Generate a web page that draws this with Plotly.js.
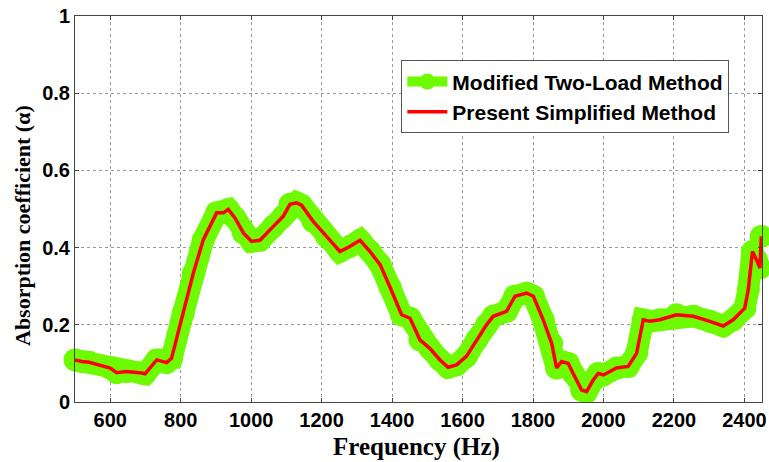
<!DOCTYPE html>
<html>
<head>
<meta charset="utf-8">
<script src="https://cdn.plot.ly/plotly-3.0.1.min.js"></script>
<style>html,body{margin:0;padding:0;background:#fff;}#chart{width:769px;height:462px;}</style>
</head>
<body>
<div id="chart"></div>
<script>
const freq = [500,519,540,600,618,647,689,699,732,760,774,807,836,864,902,921,935,954,978,1001,1025,1063,1091,1110,1129,1143,1176,1214,1252,1280,1309,1337,1366,1394,1427,1451,1479,1507,1536,1559,1583,1611,1640,1668,1687,1725,1749,1782,1801,1829,1853,1867,1881,1900,1914,1938,1952,1971,1985,2000,2037,2070,2094,2113,2132,2160,2207,2255,2302,2340,2368,2401,2411,2423,2434,2444,2448];
const twoLoad = [0.109,0.105,0.103,0.088,0.076,0.079,0.075,0.073,0.109,0.102,0.113,0.23,0.334,0.42,0.49,0.49,0.499,0.477,0.438,0.416,0.419,0.455,0.481,0.512,0.516,0.51,0.468,0.429,0.39,0.403,0.419,0.39,0.356,0.298,0.226,0.217,0.161,0.139,0.109,0.09,0.096,0.118,0.161,0.2,0.222,0.235,0.274,0.282,0.274,0.213,0.152,0.088,0.105,0.10,0.074,0.031,0.027,0.057,0.074,0.07,0.088,0.092,0.126,0.213,0.209,0.213,0.226,0.222,0.209,0.197,0.213,0.243,0.291,0.39,0.369,0.347,0.429];
const simplified = twoLoad.slice();
const xTicks = [600,800,1000,1200,1400,1600,1800,2000,2200,2400];
const yTicks = [0,0.2,0.4,0.6,0.8,1];
const yTickText = ['0','0.2','0.4','0.6','0.8','1'];

const green = 'rgb(110,250,0)';
const traces = [
  {x: freq, y: twoLoad, type: 'scatter', mode: 'lines+markers', name: 'Modified Two-Load Method',
   line: {color: green, width: 22}, marker: {color: green, size: 23, symbol: 'circle', line: {width: 0}},
   cliponaxis: false},
  {x: freq, y: simplified, type: 'scatter', mode: 'lines', name: 'Present Simplified Method',
   line: {color: 'rgb(255,0,0)', width: 3.5}}
];
const tickFont = {family: 'Arial, Liberation Sans, sans-serif', size: 20, color: '#000', weight: 'bold'};
const layout = {
  width: 769, height: 462,
  margin: {l: 75, r: 7, t: 16, b: 60},
  paper_bgcolor: '#fff', plot_bgcolor: '#fff',
  showlegend: true,
  legend: {x: 0.475, y: 0.885, xanchor: 'left', yanchor: 'top', bgcolor: '#fff',
    bordercolor: '#555', borderwidth: 1, itemwidth: 40, tracegroupgap: 0,
    font: {family: 'Arial, Liberation Sans, sans-serif', size: 21, color: '#000', weight: 'bold'}},
  xaxis: {range: [500, 2450], tickvals: xTicks, ticks: 'inside', ticklen: 4,
    showgrid: true, gridcolor: '#999', griddash: 'dot', gridwidth: 1,
    showline: true, linecolor: '#444', linewidth: 1, mirror: 'ticks', zeroline: false,
    tickfont: tickFont},
  yaxis: {range: [0, 1], tickvals: yTicks, ticktext: yTickText, ticks: 'inside', ticklen: 4,
    showgrid: true, gridcolor: '#999', griddash: 'dot', gridwidth: 1,
    showline: true, linecolor: '#444', linewidth: 1, mirror: 'ticks', zeroline: false,
    tickfont: tickFont},
  annotations: [
    {text: 'Frequency (Hz)', xref: 'paper', yref: 'paper', x: (416-75)/687, y: 0,
     xanchor: 'center', yanchor: 'middle', yshift: -45, showarrow: false,
     font: {family: 'Liberation Serif, Times New Roman, serif', size: 25, color: '#000', weight: 'bold'}},
    {text: 'Absorption coefficient (α)', xref: 'paper', yref: 'paper', x: 0, xshift: -52,
     y: (402-226)/386, xanchor: 'center', yanchor: 'middle', textangle: -90, showarrow: false,
     font: {family: 'Liberation Serif, Times New Roman, serif', size: 22, color: '#000', weight: 'bold'}}
  ]
};
Plotly.newPlot('chart', traces, layout, {displayModeBar: false, staticPlot: true});
</script>
</body>
</html>
